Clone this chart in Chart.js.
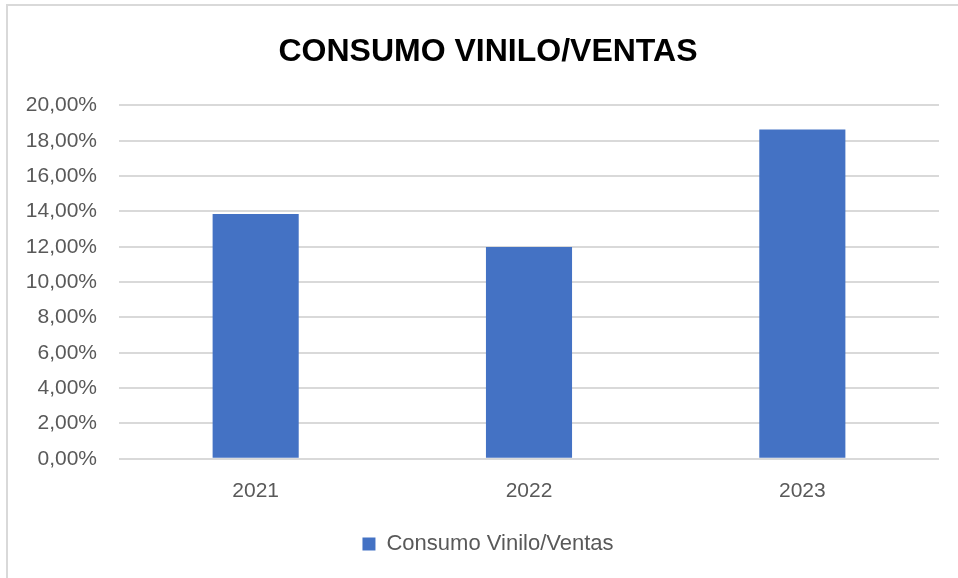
<!DOCTYPE html>
<html>
<head>
<meta charset="utf-8">
<script src="https://cdn.jsdelivr.net/npm/chart.js@4"></script>
<style>
  html, body { margin: 0; padding: 0; background: #fff; overflow: hidden; }
  #frame {
    position: absolute; left: 6px; top: 4px; width: 1000px; height: 600px;
    border-top: 2px solid #d9d9d9; border-left: 2px solid #d9d9d9;
  }
  #chart { display: block; }
</style>
</head>
<body>
<div id="frame"><canvas id="chart" width="960" height="572"></canvas></div>
<script>
const years = ['2021', '2022', '2023'];
const consumoVentas = [13.85, 11.98, 18.64];
const seriesName = 'Consumo Vinilo/Ventas';
const chartTitle = 'CONSUMO VINILO/VENTAS';

const fontFamily = '"Liberation Sans", Arial, sans-serif';
const textGray = '#595959';
const gridGray = '#d9d9d9';

var ctx = document.getElementById('chart').getContext('2d');

var chart = new Chart(ctx, {
    type: 'bar',
    data: {
        labels: years,
        datasets: [{
            label: seriesName,
            data: consumoVentas,
            backgroundColor: '#4472C4',
            barPercentage: 0.315,
            categoryPercentage: 1
        }]
    },
    options: {
        responsive: false,
        animation: false,
        devicePixelRatio: 1,
        layout: { padding: { top: 12, left: 0, right: 0, bottom: 13 } },
        plugins: {
            title: {
                display: true,
                text: chartTitle,
                color: '#000',
                font: { family: fontFamily, size: 32, weight: 'bold' },
                padding: { top: 15, bottom: 34 }
            },
            legend: {
                position: 'bottom',
                labels: {
                    color: textGray,
                    font: { family: fontFamily, size: 22 },
                    boxWidth: 13,
                    boxHeight: 13,
                    padding: 17
                }
            },
            tooltip: { enabled: false }
        },
        scales: {
            x: {
                grid: { display: false },
                border: { display: false },
                ticks: {
                    color: textGray,
                    font: { family: fontFamily, size: 21 },
                    padding: 12
                }
            },
            y: {
                min: 0,
                max: 20,
                grid: { color: gridGray, lineWidth: 2, drawTicks: false },
                border: { display: false },
                ticks: {
                    stepSize: 2,
                    color: textGray,
                    font: { family: fontFamily, size: 21 },
                    padding: 22,
                    callback: (v) => v.toFixed(2).replace('.', ',') + '%'
                },
                afterFit: (scale) => { scale.width = 111; }
            },
            // empty right axis only to keep the right margin of the plot
            yRight: {
                position: 'right',
                grid: { display: false },
                border: { display: false },
                ticks: { display: false },
                afterFit: (scale) => { scale.width = 29; }
            }
        }
    }
});
</script>
</body>
</html>
